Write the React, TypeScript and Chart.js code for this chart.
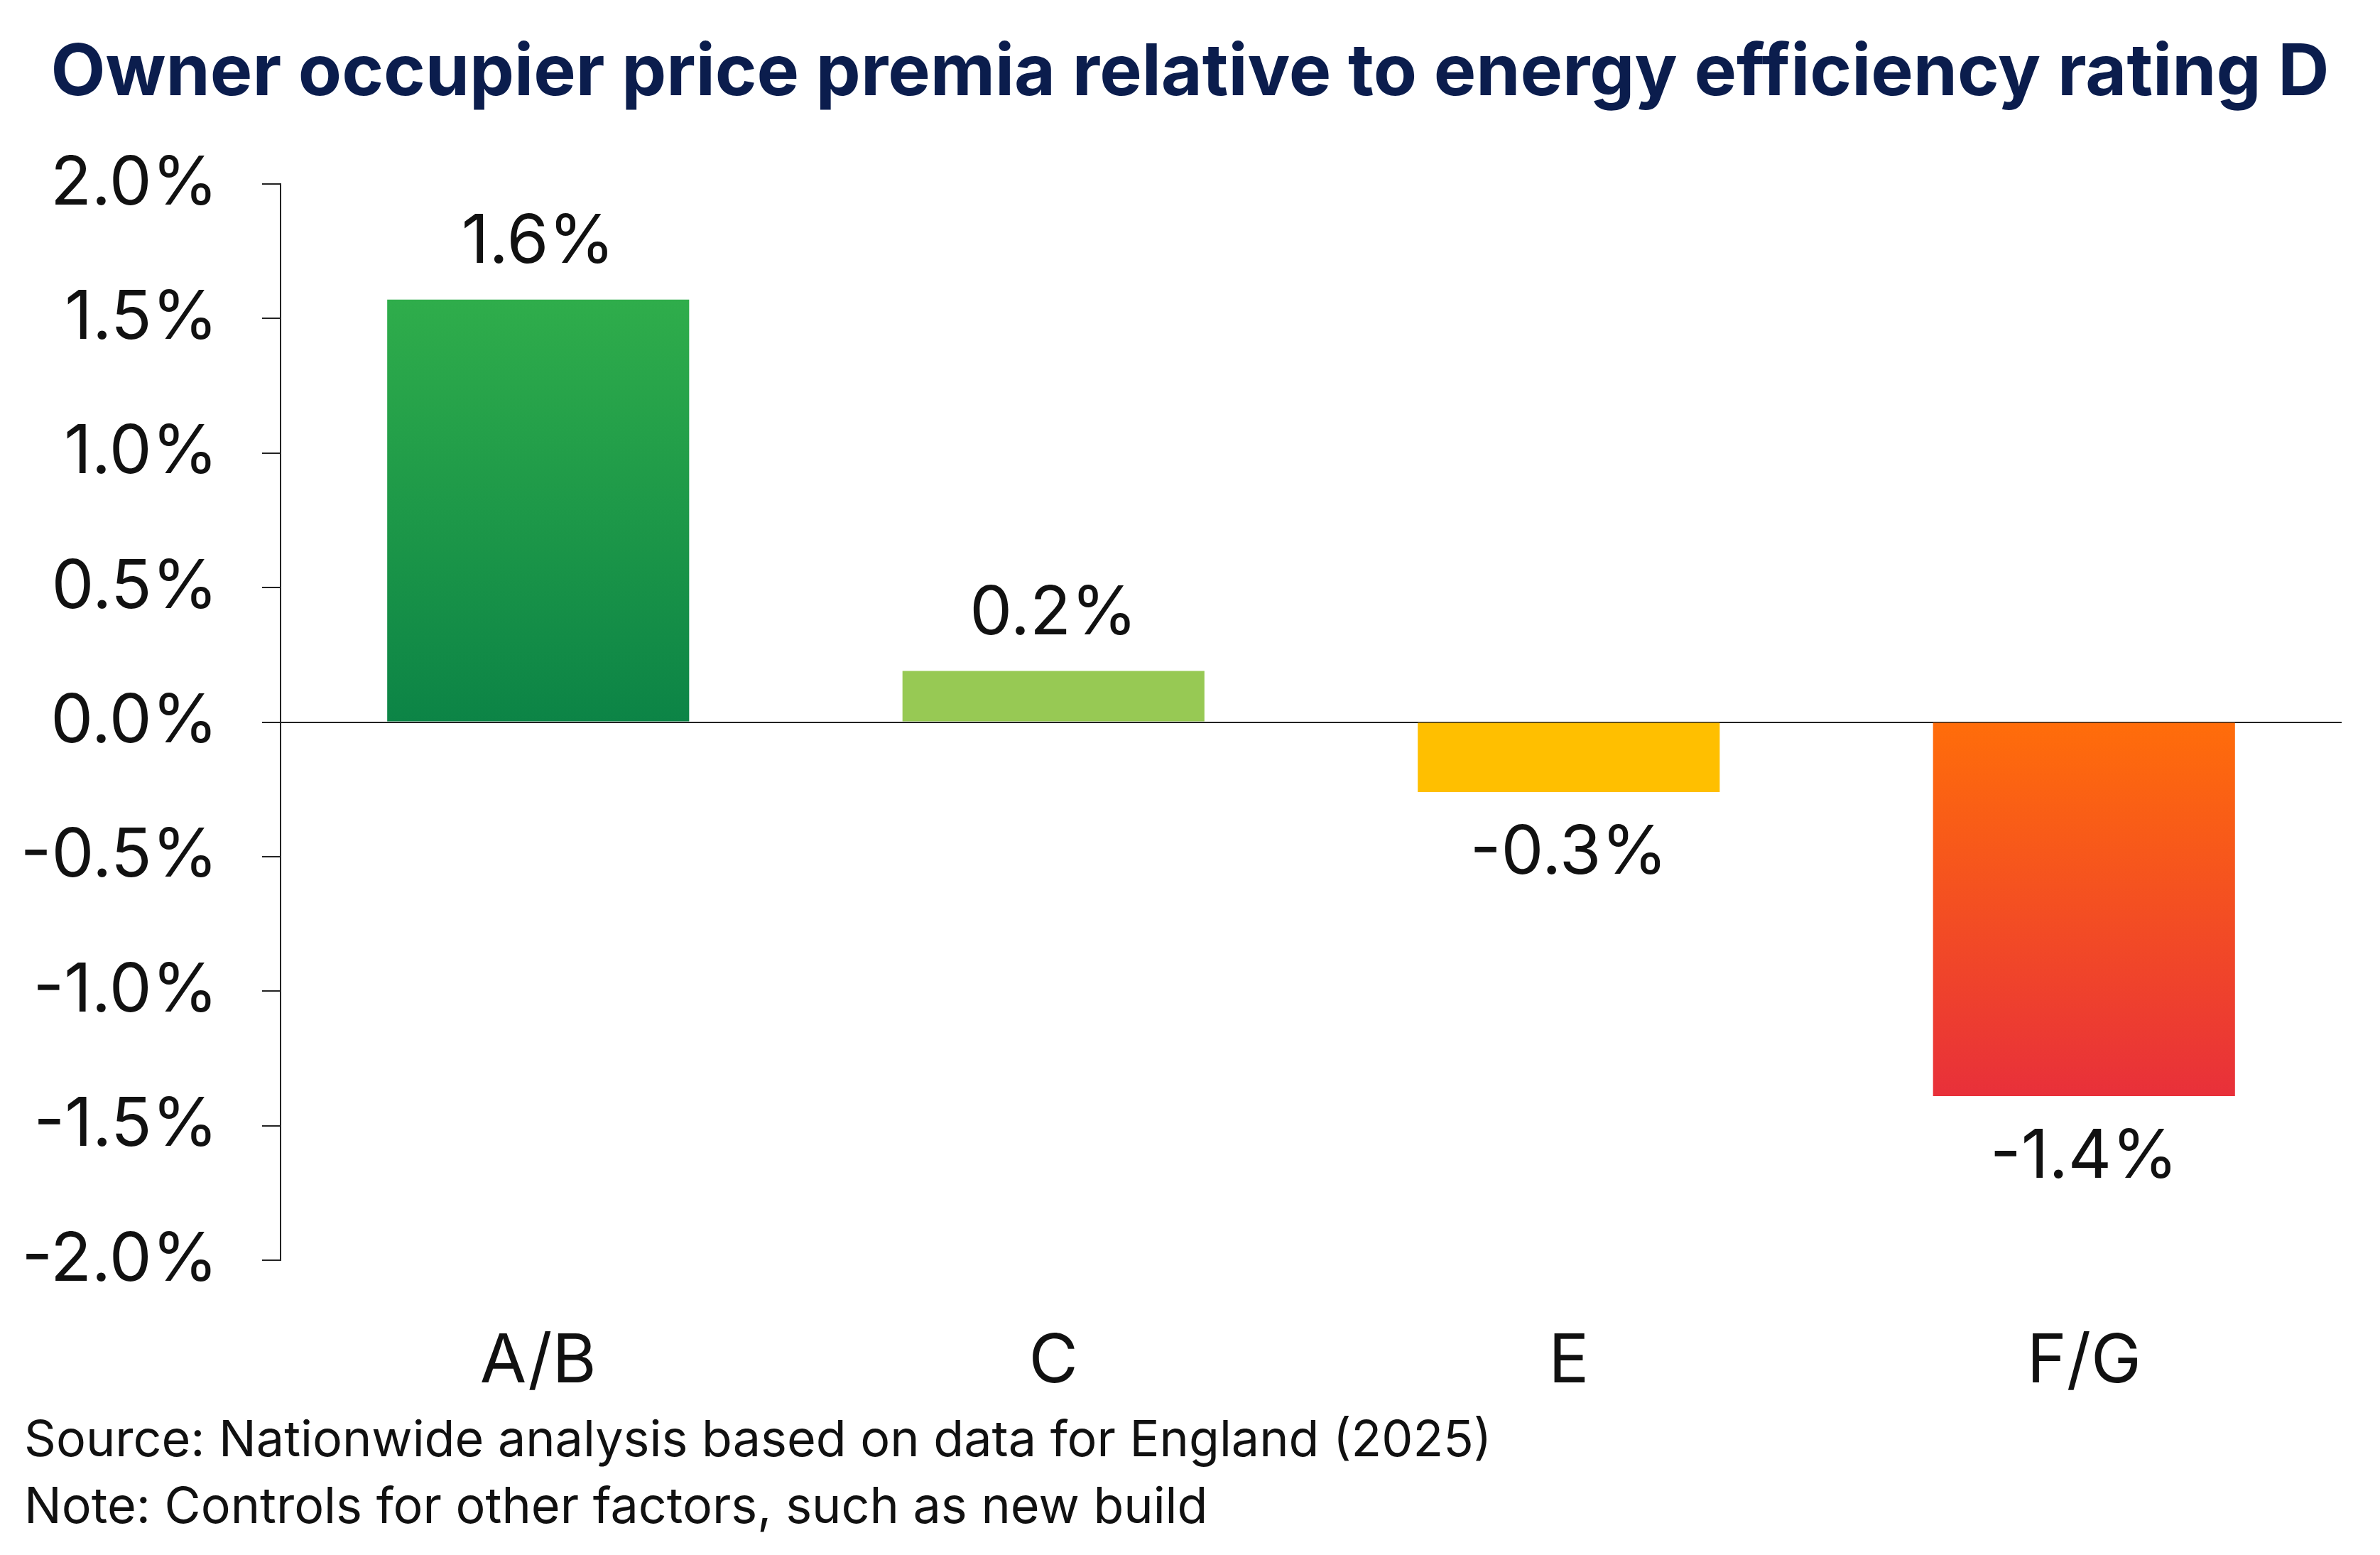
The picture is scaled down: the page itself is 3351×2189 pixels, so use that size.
import { useEffect, useRef } from 'react'
import { Chart, registerables } from 'chart.js'
Chart.register(...registerables)

const CATEGORIES = ['A/B', 'C', 'E', 'F/G']
const VALUES = [1.57, 0.19, -0.26, -1.39]
const LABELS = ['1.6%', '0.2%', '-0.3%', '-1.4%']
const TOP_COLORS = ['#2fad4b', '#97c954', '#ffbf00', '#ff6d0a']
const BOTTOM_COLORS = ['#0c8446', '#97c954', '#ffbf00', '#e8303a']

const FONT = 'Inter, "Noto Sans", sans-serif'
const NAVY = '#0b1d4d'

const valueLabels = {
  id: 'valueLabels',
  afterDatasetsDraw(chart: any) {
    const { ctx } = chart
    const meta = chart.getDatasetMeta(0)
    ctx.save()
    ctx.font = `95px ${FONT}`
    ctx.fillStyle = '#111'
    ctx.textAlign = 'center'
    ctx.textBaseline = 'middle'
    meta.data.forEach((bar: any, i: number) => {
      const y = VALUES[i] >= 0 ? bar.y - 80 : bar.y + 86
      ctx.fillText(LABELS[i], bar.x, y)
    })
    ctx.restore()
  },
}

export default function App() {
  const ref = useRef<HTMLCanvasElement>(null)

  useEffect(() => {
    if (!ref.current) return
    const chart = new Chart(ref.current, {
      type: 'bar',
      data: {
        labels: CATEGORIES,
        datasets: [{
          data: VALUES,
          barPercentage: 0.586,
          categoryPercentage: 1,
          backgroundColor: (c: any) => {
            const area = c.chart.chartArea
            const i = c.dataIndex
            if (!area || i === undefined) return TOP_COLORS[i ?? 0]
            const y = c.chart.scales.y
            const top = y.getPixelForValue(Math.max(0, VALUES[i]))
            const bot = y.getPixelForValue(Math.min(0, VALUES[i]))
            const g = c.chart.ctx.createLinearGradient(0, top, 0, bot)
            g.addColorStop(0, TOP_COLORS[i])
            g.addColorStop(1, BOTTOM_COLORS[i])
            return g
          },
        }],
      },
      options: {
        animation: false,
        responsive: false,
        layout: { padding: { top: 259, right: 54, bottom: 0, left: 0 } },
        plugins: { legend: { display: false }, tooltip: { enabled: false } },
        scales: {
          x: {
            grid: { display: false },
            border: { display: false },
            ticks: { font: { family: FONT, size: 95 }, color: '#111', padding: 78 },
            afterFit: (s: any) => { s.height = 2189 - 1774 },
          },
          y: {
            min: -2, max: 2,
            ticks: {
              stepSize: 0.5,
              font: { family: FONT, size: 95 },
              color: '#111',
              padding: 62,
              callback: (v: any) => Number(v).toFixed(1) + '%',
            },
            grid: {
              drawOnChartArea: true,
              tickLength: 26,
              lineWidth: 2,
              color: (c: any) => (c.tick && c.tick.value === 0 ? '#222' : 'rgba(0,0,0,0)'),
              tickColor: '#222',
            },
            border: { display: true, color: '#222', width: 2 },
            afterFit: (s: any) => { s.width = 395 },
          },
        },
      },
      plugins: [valueLabels],
    })
    return () => chart.destroy()
  }, [])

  return (
    <div style={{ position: 'fixed', left: 0, top: 0, width: 3351, height: 2189, background: '#fff', fontFamily: FONT }}>
      <canvas ref={ref} width={3351} height={2189} style={{ position: 'absolute', left: 0, top: 0 }} />
      <div style={{ position: 'absolute', left: 0, width: 3351, top: 28, textAlign: 'center', fontSize: 100, fontWeight: 700, color: NAVY, whiteSpace: 'nowrap', lineHeight: '140px' }}>
        Owner occupier price premia relative to energy efficiency rating D
      </div>
      <div style={{ position: 'absolute', left: 34, top: 1978, fontSize: 70, color: '#111', lineHeight: '94px', whiteSpace: 'nowrap' }}>
        <div>Source: Nationwide analysis based on data for England (2025)</div>
        <div>Note: Controls for other factors, such as new build</div>
      </div>
    </div>
  )
}
